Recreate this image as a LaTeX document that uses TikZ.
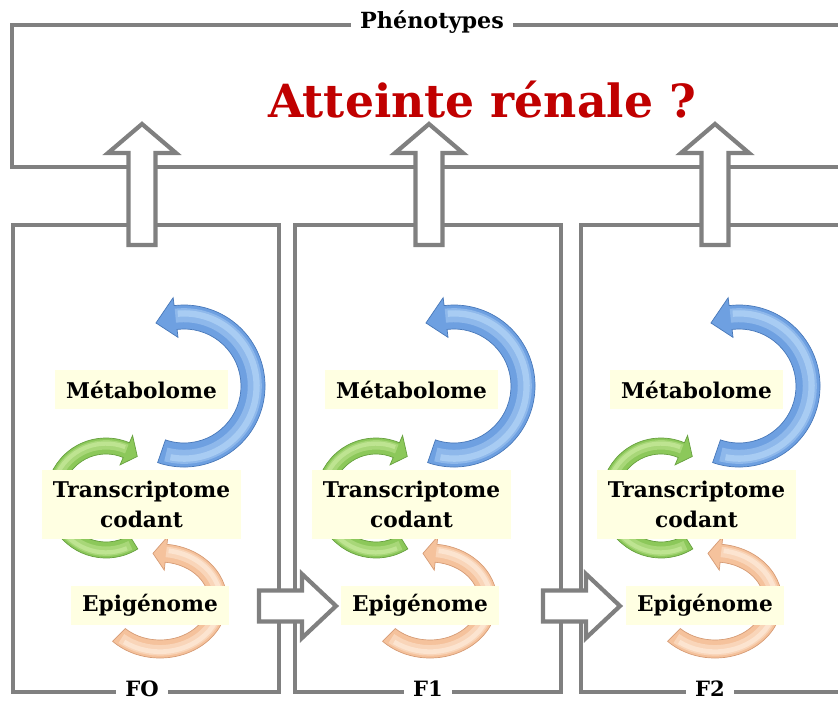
\documentclass[tikz,border=0pt]{standalone}
\usepackage{fontspec}
\setmainfont{DejaVu Serif}

\definecolor{framegray}{RGB}{128,128,128}
\definecolor{darkred}{RGB}{192,0,0}
\definecolor{cream}{RGB}{255,255,226}
\definecolor{bluearc}{RGB}{110,160,225}
\definecolor{bluearcdark}{RGB}{72,120,185}
\definecolor{bluearclight}{RGB}{168,204,243}
\definecolor{greenarc}{RGB}{140,200,90}
\definecolor{greenarcdark}{RGB}{102,160,62}
\definecolor{greenarclight}{RGB}{190,228,145}
\definecolor{orangearc}{RGB}{245,194,156}
\definecolor{orangearcdark}{RGB}{214,156,118}
\definecolor{orangearclight}{RGB}{252,228,208}

\tikzset{
  frame/.style={draw=framegray, line width=3.6pt},
  blockarrow/.style={draw=framegray, fill=white, line width=3.6pt},
  framelabel/.style={fill=white, inner xsep=8pt, inner ysep=1pt, font=\bfseries\fontsize{19}{21}\selectfont},
  omicbox/.style={fill=cream, inner xsep=9.4pt, inner ysep=0pt, align=center, font=\bfseries\fontsize{18.5}{25.6}\selectfont}
}

% centre x, centre y, x radius, y radius, half width, start angle, head angle, tip angle, colour
\newcommand{\omicarrow}[9]{%
  \begin{scope}[shift={(#1,#2)}]
    \filldraw[fill=#9, draw=#9dark, line width=0.6pt]
      (#6:{#3+#5} and {#4+#5}) arc[start angle=#6, end angle=#7, x radius={#3+#5}, y radius={#4+#5}]
      -- (#7:{#3+#5+8} and {#4+#5+8}) -- (#8:#3 and #4) -- (#7:{#3-#5-8} and {#4-#5-8})
      -- (#7:{#3-#5} and {#4-#5}) arc[start angle=#7, end angle=#6, x radius={#3-#5}, y radius={#4-#5}]
      -- cycle;
    \draw[#9light!55!#9, line width={#5*1.0pt}]
      ({#6+(#7-#6)*0.02}:{#3+#5*0.15} and {#4+#5*0.15})
      arc[start angle={#6+(#7-#6)*0.02}, end angle=#7, x radius={#3+#5*0.15}, y radius={#4+#5*0.15}];
    \draw[#9light, line width={#5*0.45pt}]
      ({#6+(#7-#6)*0.04}:{#3+#5*0.3} and {#4+#5*0.3})
      arc[start angle={#6+(#7-#6)*0.04}, end angle={#7-(#7-#6)*0.01}, x radius={#3+#5*0.3}, y radius={#4+#5*0.3}];
  \end{scope}%
}

\begin{document}
\begin{tikzpicture}[x=0.03cm, y=-0.03cm]
\useasboundingbox (0,0) rectangle (838,702);
\clip (0,0) rectangle (838,702);

\draw[frame] (12,25) rectangle (870,167);
\node[framelabel] (pheno) at (432,22) {Phénotypes};
\node[font=\bfseries\fontsize{39}{42}\selectfont, text=darkred] (rein) at (482,100) {Atteinte rénale ?};

\foreach \px/\dx/\ax/\fx/\lab [count=\i] in {13/0/142/142/FO, 295/270/429/428/F1, 581/555/715/710/F2} {
  \draw[frame] (\px,225) rectangle ++(266,467);
  \node[framelabel, font=\bfseries\fontsize{18}{20}\selectfont] (gen\i) at (\fx,689) {\lab};
  \draw[blockarrow, shift={(\ax,0)}] (-13.5,245) -- (-13.5,153) -- (-34,153) -- (0,124) -- (34,153) -- (13.5,153) -- (13.5,245) -- cycle;
  \begin{scope}[shift={(\dx,0)}]
    \omicarrow{184}{386}{69}{69}{12}{109}{-97}{-114}{bluearc}
    \omicarrow{106}{498}{52}{52}{8}{58}{293}{307}{greenarc}
    \omicarrow{160}{601}{58}{48}{9}{135}{-84}{-97}{orangearc}
    \node[omicbox, minimum height=33pt] (met\i) at (141.5,389.5) {Métabolome};
    \node[omicbox, minimum height=59pt] (tra\i) at (141.5,504.5) {Transcriptome\\codant};
    \node[omicbox, minimum height=33pt] (epi\i) at (150,605.5) {Epigénome};
  \end{scope}
}

\foreach \hx in {259,543} {
  \draw[blockarrow, shift={(\hx,606)}] (0,-15.5) -- (43,-15.5) -- (43,-32) -- (77,0) -- (43,32) -- (43,15.5) -- (0,15.5) -- cycle;
}
\end{tikzpicture}
\end{document}
